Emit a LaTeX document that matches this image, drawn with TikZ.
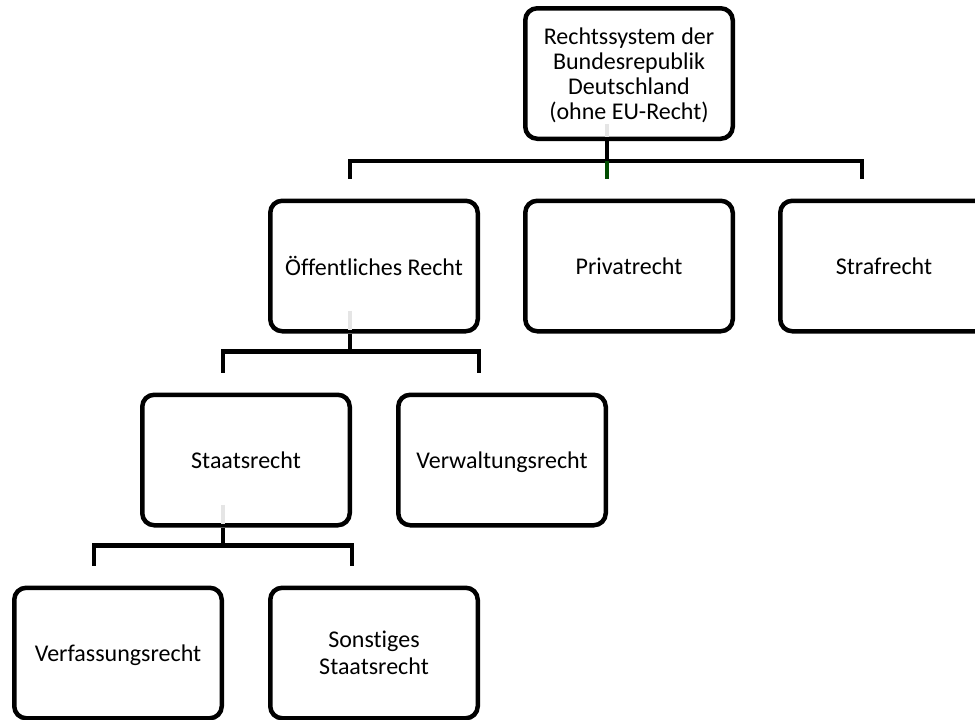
\documentclass[tikz,border=0pt]{standalone}
\usepackage{fontspec}
\setmainfont{Carlito}[Ligatures=CommonOff]
\begin{document}
\begin{tikzpicture}[x=1pt, y=-1pt,
  box/.style={draw, line width=4.5pt, rounded corners=12pt, minimum width=207.5pt,
    minimum height=130.5pt, inner sep=0pt, align=center, text depth=0pt,
    font=\fontsize{24}{25}\selectfont},
  conn/.style={line width=4.5pt},
  stub/.style={line width=4.5pt, black!10}]
  \useasboundingbox (0,0) rectangle (975,720);
  % --- Boxen ---
  \node[box] (rs) at (629, 73.5) {Rechtssystem der\\Bundesrepublik\\Deutschland\\(ohne EU-Recht)};
  \node[box] (oeff) at (374, 266) {\"Offentliches Recht};
  \node[box] (priv) at (629, 266) {Privatrecht};
  \node[box] (straf) at (884, 266) {Strafrecht};
  \node[box] (staat) at (246, 460) {Staatsrecht};
  \node[box] (verw) at (502, 460) {Verwaltungsrecht};
  \node[box] (verf) at (118, 653) {Verfassungsrecht};
  \node[box, font=\fontsize{24}{27}\selectfont] (sonst) at (374, 653) {Sonstiges\\Staatsrecht};
  % --- Ebene 1 ---
  \coordinate (bar1) at ([xshift=-22pt, yshift=-20pt]rs.south);
  \draw[stub] ([xshift=-22pt, yshift=17pt]rs.south) -- ([xshift=-22pt, yshift=4pt]rs.south);
  \draw[conn] ([xshift=-22pt]rs.south) -- (bar1);
  \draw[conn] ([xshift=-24pt, yshift=20pt]oeff.north) |- (bar1) -| ([xshift=-22pt, yshift=20pt]straf.north);
  \draw[line width=4.5pt, green!30!black] (bar1) -- ([xshift=-22pt, yshift=20pt]priv.north);
  % --- Ebene 2 ---
  \coordinate (bar2) at ([xshift=-24pt, yshift=-18pt]oeff.south);
  \draw[stub] ([xshift=-24pt, yshift=23pt]oeff.south) -- ([xshift=-24pt, yshift=4pt]oeff.south);
  \draw[conn] ([xshift=-24pt]oeff.south) -- (bar2);
  \draw[conn] ([xshift=-23pt, yshift=20pt]staat.north) |- (bar2) -| ([xshift=-23pt, yshift=20pt]verw.north);
  % --- Ebene 3 ---
  \coordinate (bar3) at ([xshift=-23pt, yshift=-18pt]staat.south);
  \draw[stub] ([xshift=-23pt, yshift=23pt]staat.south) -- ([xshift=-23pt, yshift=4pt]staat.south);
  \draw[conn] ([xshift=-23pt]staat.south) -- (bar3);
  \draw[conn] ([xshift=-24pt, yshift=20pt]verf.north) |- (bar3) -| ([xshift=-22pt, yshift=20pt]sonst.north);
\end{tikzpicture}
\end{document}
